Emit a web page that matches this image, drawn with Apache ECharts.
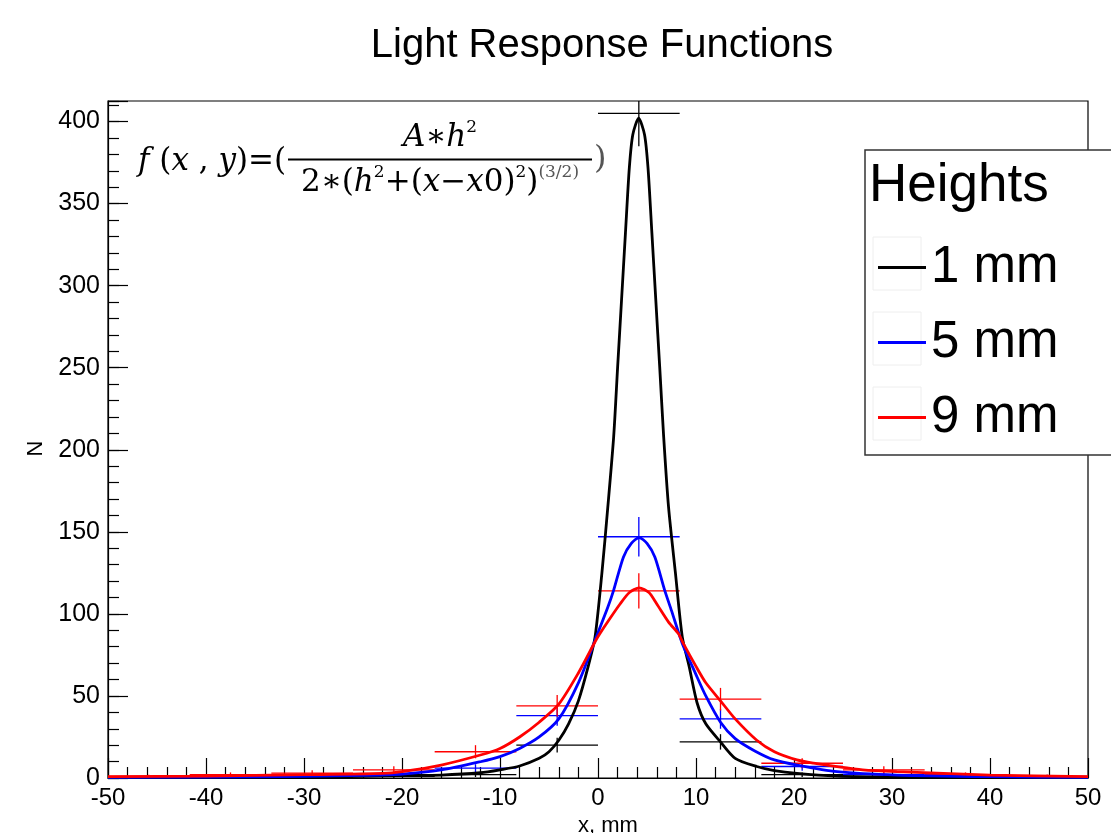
<!DOCTYPE html>
<html>
<head>
<meta charset="utf-8">
<script src="https://cdn.jsdelivr.net/npm/echarts@6/dist/echarts.min.js"></script>
<style>html,body{margin:0;padding:0;background:#fff;}#chart{width:1111px;height:833px;}</style>
</head>
<body>
<div id="chart"></div>
<script>
// ---- data ----
const seriesNames = ['1 mm', '5 mm', '9 mm'];
const binEdges = [-50, -41.667, -33.333, -25, -16.667, -8.333, 0, 8.333, 16.667, 25, 33.333, 41.667, 50];

const counts1mm = [0, 0, 0, 1, 2, 20, 405, 22, 2, 1, 0, 0];
const errors1mm = [0, 0, 0, 1, 1.4, 4.5, 20.1, 4.7, 1.4, 1, 0, 0];
const counts5mm = [0, 1, 1, 2, 6, 38, 147, 36, 7, 2, 1, 1];
const errors5mm = [0, 1, 1, 1.4, 2.4, 6.2, 12.1, 6, 2.6, 1.4, 1, 1];
const counts9mm = [1, 2, 3, 5, 16, 44, 114, 48, 9, 5, 2, 1];
const errors9mm = [1, 1.4, 1.7, 2.2, 4, 6.6, 10.7, 6.9, 3, 2.2, 1.4, 1];

const fitX1mm = [-50,-40,-30,-24,-20,-16,-12,-10,-8,-6,-5,-4,-3,-2,-1,-0.3,0.4,1.0,1.6,2.0,2.4,2.8,3.2,3.55,4.15,4.75,5.1,5.5,5.9,6.3,6.7,7.2,7.9,8.6,9.3,10.1,11,12.5,14,16.2,18,20.3,24.4,30,40,50];
const fitY1mm = [0.3,0.4,0.6,1.0,1.5,1.8,3.2,5,7.3,12,16,23,33,47,68,86,125,165,208,250,291,332,372,392,402,392,372,332,291,250,208,165,125,86,68,46,33,22,12,7,4.5,2.8,1.2,0.6,0.4,0.3];
const fitX5mm = [-50,-40,-30,-24,-20,-16,-12,-10,-8,-6,-4,-2,-0.3,1.0,1.6,2.6,3.4,4.2,5.0,5.8,6.8,7.5,8.6,10,11,12.5,14,16,18,20.3,24.4,30.5,40,50];
const fitY5mm = [0.4,0.6,1.0,1.6,2.4,4.9,9.9,13,18,25,36,58,84,104,114.5,134.7,143,146.5,143,134.7,114.5,102,82,63,50,34,24,16.5,11,7.9,3.9,1.8,0.8,0.4];
const fitX9mm = [-50,-40,-30,-22,-20,-16,-12,-10,-8,-6,-4,-2,-0.3,0.2,1.2,2.25,3.2,4.2,5.2,6.0,7.2,8.2,8.7,10,11,12.5,14,16.2,18,20.3,22,24.4,27,30.5,40,50];
const fitY9mm = [0.8,1.2,2.0,2.8,3.9,7.9,14,18,25,34,45,64,83,88,97,106,113,115.9,113,106,95,88,82,68,58,47,36,23,16,11,9,6.9,5,3.9,1.8,0.8];

const xTicks = [-50, -40, -30, -20, -10, 0, 10, 20, 30, 40, 50];
const yTicks = [0, 50, 100, 150, 200, 250, 300, 350, 400];

const colors = ['#000000', '#0000ff', '#ff0000'];
// ---------------------------------------

const counts = [counts1mm, counts5mm, counts9mm];
const errors = [errors1mm, errors5mm, errors9mm];
const fitX = [fitX1mm, fitX5mm, fitX9mm];
const fitY = [fitY1mm, fitY5mm, fitY9mm];

function histData(c, e) {
  return c.map((v, i) => [binEdges[i], binEdges[i + 1], v, e[i]]);
}
function renderErr(params, api) {
  const lo = api.value(0), hi = api.value(1), v = api.value(2), e = api.value(3);
  const cs = params.coordSys;
  const pL = api.coord([lo, v]), pR = api.coord([hi, v]);
  const mid = (lo + hi) / 2;
  const pT = api.coord([mid, v + e]), pB = api.coord([mid, v - e]);
  const color = api.visual('color');
  const st = { stroke: color, lineWidth: 1.3 };
  const ch = [{ type: 'line', shape: { x1: pL[0], y1: pL[1], x2: pR[0], y2: pR[1] }, style: st }];
  if (e > 0) ch.push({ type: 'line', shape: { x1: pT[0], y1: Math.max(pT[1], cs.y), x2: pB[0], y2: Math.min(pB[1], cs.y + cs.height) }, style: st });
  return { type: 'group', children: ch };
}

const series = [];
for (let k = 0; k < 3; k++) {
  series.push({
    name: seriesNames[k], type: 'custom', renderItem: renderErr,
    itemStyle: { color: colors[k] }, data: histData(counts[k], errors[k]),
    encode: { x: [0, 1], y: 2 }, z: 3, silent: true
  });
}
for (let k = 0; k < 3; k++) {
  series.push({
    name: seriesNames[k], type: 'line', showSymbol: false, symbol: 'none',
    smooth: 0.25, data: fitX[k].map((x, i) => [x, fitY[k][i]]),
    lineStyle: { color: colors[k], width: 2.8 }, itemStyle: { color: colors[k] }, z: 4, silent: true
  });
}

const F = 'Liberation Sans, Arial, Helvetica, sans-serif';
const MF = 'DejaVu Serif, serif';
const rich = {
  i: { fontFamily: MF, fontStyle: 'italic', fontSize: 31, lineHeight: 38, fill: '#000' },
  n: { fontFamily: MF, fontSize: 31, lineHeight: 38, fill: '#000' },
  s: { fontFamily: MF, fontSize: 17, lineHeight: 20, verticalAlign: 'top', fill: '#000' },
  g: { fontFamily: MF, fontSize: 17, lineHeight: 16, verticalAlign: 'top', fill: '#555' }
};

const chart = echarts.init(document.getElementById('chart'));
chart.setOption({
  animation: false,
  backgroundColor: '#ffffff',
  title: {
    text: 'Light Response Functions', left: 597, top: 21, textAlign: 'center',
    textStyle: { fontFamily: F, fontSize: 40, fontWeight: 'normal', color: '#000' }
  },
  grid: { left: 108, top: 101, width: 980, height: 677, show: true, borderColor: '#000', borderWidth: 1.2,
    backgroundColor: 'transparent', containLabel: false, outerBoundsMode: 'none' },
  xAxis: {
    type: 'value', min: -50, max: 50, interval: 10,
    name: 'x, mm', nameLocation: 'middle', nameGap: 32,
    nameTextStyle: { fontFamily: F, fontSize: 22, color: '#000', padding: [0, 0, 0, 20] },
    axisLine: { show: true, onZero: false, lineStyle: { color: '#000', width: 1.2 } },
    axisTick: { show: true, inside: true, length: 20, lineStyle: { color: '#000', width: 1.2 } },
    minorTick: { show: true, splitNumber: 5, length: 11, lineStyle: { color: '#000', width: 1.2 } },
    splitLine: { show: false },
    axisLabel: { fontFamily: F, fontSize: 24, color: '#000', margin: 8,
      formatter: v => (xTicks.indexOf(v) >= 0 ? String(v) : '') }
  },
  yAxis: [{
    type: 'value', min: 0, max: 412.5, interval: 50,
    name: 'N', nameLocation: 'middle', nameGap: 56, nameRotate: 90,
    nameTextStyle: { fontFamily: F, fontSize: 22, color: '#000', padding: [0, 18, 0, 0] },
    axisLine: { show: true, onZero: false, lineStyle: { color: '#000', width: 1.2 } },
    axisTick: { show: true, inside: true, length: 20, lineStyle: { color: '#000', width: 1.2 } },
    splitLine: { show: false },
    axisLabel: { fontFamily: F, fontSize: 25, color: '#000', margin: 8,
      formatter: v => (yTicks.indexOf(v) >= 0 ? String(v) : '') }
  }, {
    type: 'value', min: 0, max: 412.5, interval: 10, position: 'left',
    axisLine: { show: false, onZero: false },
    axisTick: { show: true, inside: true, length: 11, lineStyle: { color: '#000', width: 1.2 } },
    splitLine: { show: false }, axisLabel: { show: false }
  }],
  legend: {
    data: seriesNames, orient: 'vertical', left: 873, top: 236, z: 120,
    icon: 'rect', itemWidth: 48, itemHeight: 3, itemGap: 22,
    selectedMode: false,
    textStyle: { fontFamily: F, fontSize: 51, lineHeight: 53, color: '#000' }
  },
  graphic: [
    { type: 'rect', z: 100, shape: { x: 865, y: 150, width: 260, height: 305 },
      style: { fill: '#fff', stroke: '#333', lineWidth: 1.5 } },
    { type: 'text', z: 101, x: 869, y: 186,
      style: { text: 'Heights', font: '53px ' + F, fill: '#000', verticalAlign: 'middle' } },
    ...seriesNames.map((n, k) => ({ type: 'rect', z: 101, shape: { x: 873, y: 237 + 75 * k, width: 48, height: 53 },
      style: { fill: 'none', stroke: '#eee', lineWidth: 1 } })),
    { type: 'text', z: 50, x: 138, y: 162,
      style: { text: '{i|f }{n|(}{i|x }{n|, }{i|y}{n|)=(}', rich: rich, verticalAlign: 'middle' } },
    { type: 'text', z: 50, x: 440, y: 138,
      style: { text: '{i|A}{n|∗}{i|h}{s|2}', rich: rich, align: 'center', verticalAlign: 'middle' } },
    { type: 'line', z: 50, shape: { x1: 288, y1: 159.5, x2: 592, y2: 159.5 }, style: { stroke: '#000', lineWidth: 2 } },
    { type: 'text', z: 50, x: 440, y: 183,
      style: { text: '{n|2∗(}{i|h}{s|2}{n|+(}{i|x}{n|−}{i|x}{n|0)}{s|2}{n|)}{g|(3/2)}', rich: rich, align: 'center', verticalAlign: 'middle' } },
    { type: 'text', z: 50, x: 594, y: 160,
      style: { text: ')', font: '32px ' + MF, fill: '#555', verticalAlign: 'middle' } }
  ],
  series: series
});
</script>
</body>
</html>
